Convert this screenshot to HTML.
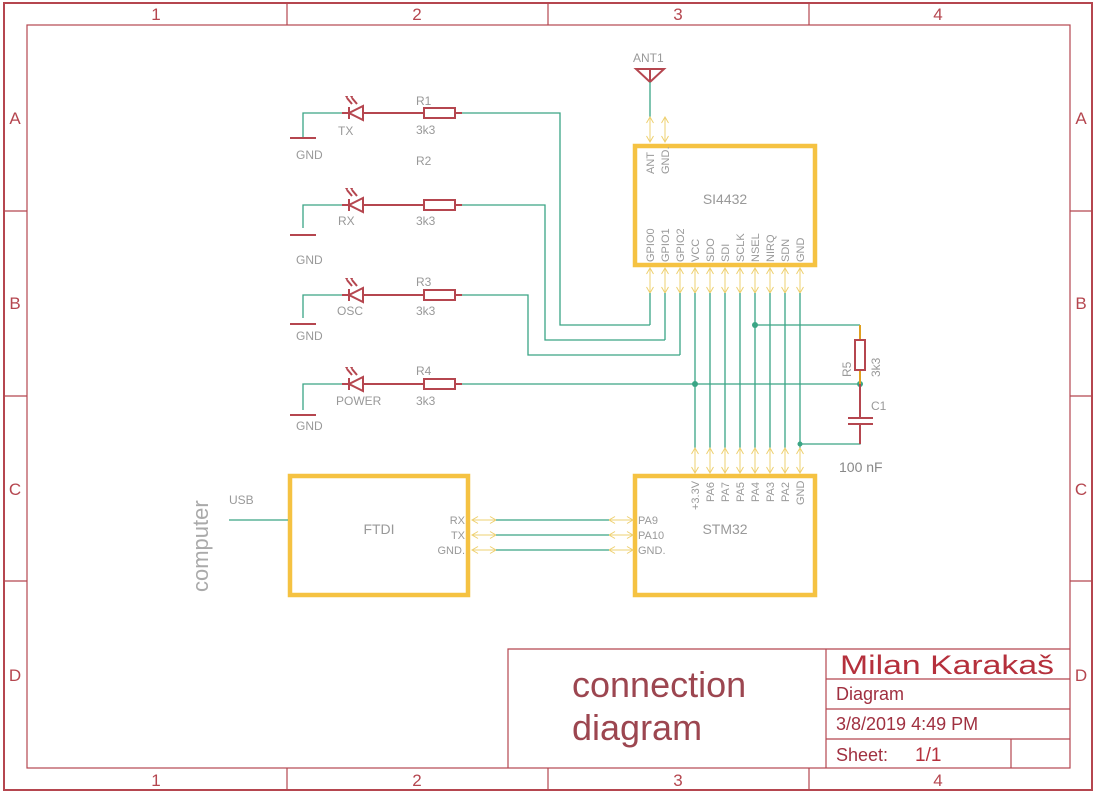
<!DOCTYPE html>
<html><head><meta charset="utf-8"><style>
html,body{margin:0;padding:0;background:#fff}
svg{display:block}
text{font-family:"Liberation Sans",sans-serif}
.fr{stroke:#b5464f;fill:none}
.ft{fill:#b5464f;font-size:17px;text-anchor:middle}
.w{stroke:#3aa585;fill:none;stroke-width:1.3}
.r{stroke:#b5464f;fill:none;stroke-width:2}
.g{fill:#999;font-size:12px}
.s{fill:#999;font-size:11px}
.box{stroke:#f5c242;fill:none;stroke-width:4.5}
.pa{stroke:#eed070;fill:none;stroke-width:1}
</style></head><body>
<svg width="1095" height="795" viewBox="0 0 1095 795" xmlns="http://www.w3.org/2000/svg">
<defs>
<g id="va"><path class="pa" d="M0 0V25M-3.5 6L0 0L3.5 6M-3.5 19L0 25L3.5 19"/></g>
<g id="ha"><path class="pa" d="M0 0H24M6 -3.5L0 0L6 3.5M18 -3.5L24 0L18 3.5"/></g>
</defs>
<!-- frame -->
<rect x="4" y="3" width="1088" height="787" class="fr" stroke-width="2"/>
<rect x="27" y="25" width="1043" height="743" class="fr" stroke-width="1.2"/>
<path class="fr" stroke-width="1.2" d="M287 3V25M548 3V25M809 3V25M287 768V790M548 768V790M809 768V790M4 211H27M4 396H27M4 581H27M1070 211H1092M1070 396H1092M1070 581H1092"/>
<text class="ft" x="156" y="20">1</text><text class="ft" x="417" y="20">2</text><text class="ft" x="678" y="20">3</text><text class="ft" x="938" y="20">4</text>
<text class="ft" x="156" y="786">1</text><text class="ft" x="417" y="786">2</text><text class="ft" x="678" y="786">3</text><text class="ft" x="938" y="786">4</text>
<text class="ft" x="15" y="124">A</text><text class="ft" x="15" y="309">B</text><text class="ft" x="15" y="495">C</text><text class="ft" x="15" y="681">D</text>
<text class="ft" x="1081" y="124">A</text><text class="ft" x="1081" y="309">B</text><text class="ft" x="1081" y="495">C</text><text class="ft" x="1081" y="681">D</text>
<!-- title block -->
<path class="fr" stroke-width="1.2" d="M508 768V649H1070M826 649V768M826 679H1070M826 709H1070M826 739H1070M1011 739V768"/>
<text x="572" y="697" fill="#9c4650" font-size="36">connection</text>
<text x="572" y="740" fill="#9c4650" font-size="36">diagram</text>
<text x="840" y="674" fill="#b5303c" font-size="27" textLength="214" lengthAdjust="spacingAndGlyphs">Milan Karakaš</text>
<text x="836" y="700" fill="#a03040" font-size="18">Diagram</text>
<text x="836" y="730" fill="#a03040" font-size="18">3/8/2019 4:49 PM</text>
<text x="836" y="761" fill="#a03040" font-size="18">Sheet:</text>
<text x="915" y="761" fill="#b5303c" font-size="19">1/1</text>

<!-- LED rows -->
<g>
<path class="w" d="M303 138V113H342M457 113H560V325H650M303 228V205H342M457 205H545V340H665M303 318V295H342M457 295H528V355H680M303 410V384H342M457 384H860"/>
<path class="r" d="M290 138H316M290 235H316M290 324H316M290 415H316"/>
<g id="d1">
<path class="r" d="M342 113H348M363 113H423M455 113H462" stroke-width="1.5"/>
<path class="r" d="M349 107V119M349 113L363 106V120Z" stroke-width="2"/>
<path class="r" d="M352 104L347 98M357 104L352 98" stroke-width="1.3"/>
<path fill="#b5464f" d="M345 96l3 0l-1 3zM350 96l3 0l-1 3z"/>
<rect class="r" x="424" y="108" width="31" height="10"/>
</g>
<use href="#d1" y="92"/>
<use href="#d1" y="182"/>
<use href="#d1" y="271"/>
<text class="g" x="296" y="159">GND</text>
<text class="g" x="296" y="264">GND</text>
<text class="g" x="296" y="340">GND</text>
<text class="g" x="296" y="430">GND</text>
<text class="g" x="338" y="135">TX</text>
<text class="g" x="338" y="225">RX</text>
<text class="g" x="337" y="315">OSC</text>
<text class="g" x="336" y="405">POWER</text>
<text class="g" x="416" y="105">R1</text><text class="g" x="416" y="134">3k3</text>
<text class="g" x="416" y="165">R2</text><text class="g" x="416" y="225">3k3</text>
<text class="g" x="416" y="286">R3</text><text class="g" x="416" y="315">3k3</text>
<text class="g" x="416" y="375">R4</text><text class="g" x="416" y="405">3k3</text>
</g>

<!-- antenna -->
<text class="g" x="633" y="62">ANT1</text>
<path class="r" d="M636 69H664L650 82ZM650 69V82"/>
<path class="w" d="M650 82V117"/>
<use href="#va" x="650" y="117"/><use href="#va" x="665" y="117"/>

<!-- SI4432 -->
<rect class="box" x="635" y="146" width="180" height="119"/>
<text x="725" y="204" fill="#999" font-size="14" text-anchor="middle">SI4432</text>
<g class="s">
<text transform="translate(654,174) rotate(-90)">ANT</text>
<text transform="translate(669,174) rotate(-90)">GND.</text>
<text transform="translate(654,262) rotate(-90)">GPIO0</text>
<text transform="translate(669,262) rotate(-90)">GPIO1</text>
<text transform="translate(684,262) rotate(-90)">GPIO2</text>
<text transform="translate(699,262) rotate(-90)">VCC</text>
<text transform="translate(714,262) rotate(-90)">SDO</text>
<text transform="translate(729,262) rotate(-90)">SDI</text>
<text transform="translate(744,262) rotate(-90)">SCLK</text>
<text transform="translate(759,262) rotate(-90)">NSEL</text>
<text transform="translate(774,262) rotate(-90)">NIRQ</text>
<text transform="translate(789,262) rotate(-90)">SDN</text>
<text transform="translate(804,262) rotate(-90)">GND</text>
</g>
<use href="#va" x="650" y="268"/><use href="#va" x="665" y="268"/><use href="#va" x="680" y="268"/><use href="#va" x="695" y="268"/><use href="#va" x="710" y="268"/><use href="#va" x="725" y="268"/><use href="#va" x="740" y="268"/><use href="#va" x="755" y="268"/><use href="#va" x="770" y="268"/><use href="#va" x="785" y="268"/><use href="#va" x="800" y="268"/>
<path class="w" d="M650 293V325M665 293V340M680 293V355M695 293V448M710 293V448M725 293V448M740 293V448M755 293V448M770 293V448M785 293V448M800 293V448M755 325H860M800 444H860V430"/>
<circle cx="755" cy="325" r="3" fill="#3aa585"/>
<circle cx="695" cy="384" r="3" fill="#3aa585"/>
<circle cx="860" cy="384" r="3" fill="#3aa585"/>
<circle cx="800" cy="444" r="2.5" fill="#3aa585"/>
<!-- R5 C1 -->
<path d="M860 325V339M860 371V384" stroke="#e0a020" stroke-width="2"/>
<rect class="r" x="855" y="340" width="10" height="30"/>
<path class="r" d="M860 384V417M860 424V444" stroke-width="1.5"/>
<path class="r" d="M848 418H873M848 424H873" stroke-width="3"/>
<text class="g" transform="translate(851,377) rotate(-90)">R5</text>
<text class="g" transform="translate(880,377) rotate(-90)">3k3</text>
<text class="g" x="871" y="410">C1</text>
<text x="839" y="472" fill="#888" font-size="14">100 nF</text>

<!-- STM32 -->
<use href="#va" x="695" y="448"/><use href="#va" x="710" y="448"/><use href="#va" x="725" y="448"/><use href="#va" x="740" y="448"/><use href="#va" x="755" y="448"/><use href="#va" x="770" y="448"/><use href="#va" x="785" y="448"/><use href="#va" x="800" y="448"/>
<rect class="box" x="635" y="476" width="180" height="119"/>
<text x="725" y="534" fill="#999" font-size="14" text-anchor="middle">STM32</text>
<g class="s">
<text transform="translate(699,510) rotate(-90)">+3.3V</text>
<text transform="translate(714,502) rotate(-90)">PA6</text>
<text transform="translate(729,502) rotate(-90)">PA7</text>
<text transform="translate(744,502) rotate(-90)">PA5</text>
<text transform="translate(759,502) rotate(-90)">PA4</text>
<text transform="translate(774,502) rotate(-90)">PA3</text>
<text transform="translate(789,502) rotate(-90)">PA2</text>
<text transform="translate(804,505) rotate(-90)">GND</text>
<text x="638" y="524">PA9</text>
<text x="638" y="539">PA10</text>
<text x="638" y="554">GND.</text>
<text x="465" y="524" text-anchor="end">RX</text>
<text x="465" y="539" text-anchor="end">TX</text>
<text x="465" y="554" text-anchor="end">GND.</text>
</g>
<!-- FTDI -->
<rect class="box" x="290" y="476" width="178" height="119"/>
<text x="379" y="534" fill="#999" font-size="14" text-anchor="middle">FTDI</text>
<use href="#ha" x="472" y="520"/><use href="#ha" x="472" y="535"/><use href="#ha" x="472" y="550"/>
<use href="#ha" x="609" y="520"/><use href="#ha" x="609" y="535"/><use href="#ha" x="609" y="550"/>
<path class="w" d="M496 520H609M496 535H609M496 550H609M229 520H288"/>
<text class="g" x="229" y="504">USB</text>
<text transform="translate(208,592) rotate(-90)" fill="#aaa" font-size="22">computer</text>
</svg>
</body></html>
